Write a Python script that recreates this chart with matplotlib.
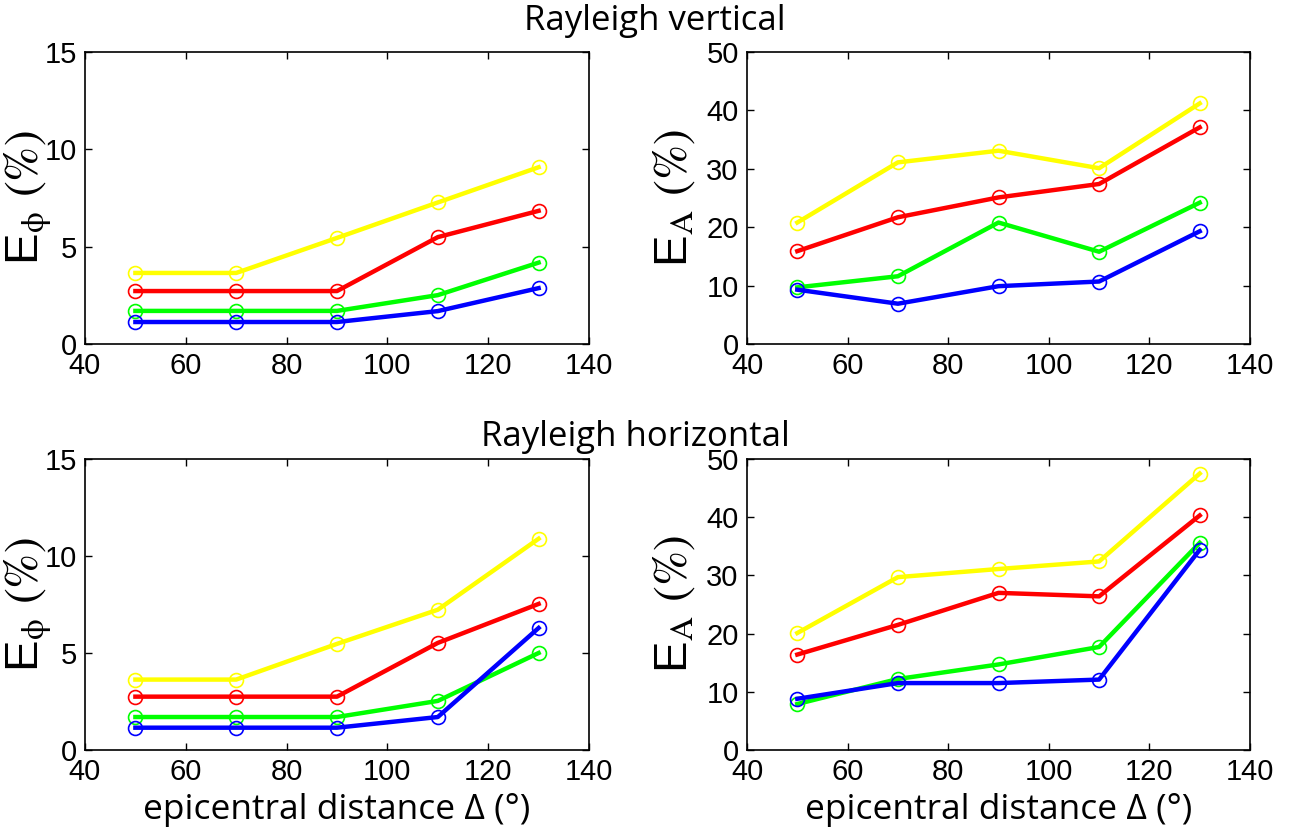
import matplotlib
matplotlib.use('Agg')
import matplotlib.pyplot as plt

# ---------------- data ----------------
distance = [50, 70, 90, 110, 130]
series_colors = ['#ffff00', '#ff0000', '#00ff00', '#0000ff']

# Rayleigh vertical - phase error (%)
rv_phase_yellow = [3.65, 3.65, 5.45, 7.27, 9.08]
rv_phase_red = [2.72, 2.72, 2.72, 5.49, 6.84]
rv_phase_green = [1.70, 1.70, 1.70, 2.51, 4.18]
rv_phase_blue = [1.13, 1.13, 1.13, 1.69, 2.87]

# Rayleigh vertical - amplitude error (%)
rv_amp_yellow = [20.8, 31.1, 33.1, 30.1, 41.2]
rv_amp_red = [15.9, 21.7, 25.1, 27.4, 37.1]
rv_amp_green = [9.7, 11.6, 20.8, 15.8, 24.2]
rv_amp_blue = [9.3, 6.9, 9.9, 10.7, 19.3]

# Rayleigh horizontal - phase error (%)
rh_phase_yellow = [3.63, 3.63, 5.47, 7.23, 10.89]
rh_phase_red = [2.75, 2.75, 2.75, 5.52, 7.53]
rh_phase_green = [1.70, 1.70, 1.70, 2.53, 5.00]
rh_phase_blue = [1.15, 1.15, 1.15, 1.70, 6.29]

# Rayleigh horizontal - amplitude error (%)
rh_amp_yellow = [20.1, 29.7, 31.1, 32.4, 47.5]
rh_amp_red = [16.4, 21.5, 27.0, 26.4, 40.3]
rh_amp_green = [7.9, 12.2, 14.7, 17.7, 35.6]
rh_amp_blue = [8.8, 11.5, 11.5, 12.1, 34.4]

x_ticks = [40, 60, 80, 100, 120, 140]
phase_ticks = [0, 5, 10, 15]
amp_ticks = [0, 10, 20, 30, 40, 50]

# ---------------- style ----------------
plt.rcParams['mathtext.fontset'] = 'stix'
tick_font = 'Liberation Sans'
text_font = 'Open Sans'

W, H = 1295, 838
fig = plt.figure(figsize=(W / 100, H / 100), dpi=100)


def px_axes(x0, y0, x1, y1):
    return fig.add_axes([x0 / W, 1 - y1 / H, (x1 - x0) / W, (y1 - y0) / H])


axes_specs = [
    (px_axes(85, 52, 589, 344), [rv_phase_yellow, rv_phase_red, rv_phase_green, rv_phase_blue], 15, phase_ticks, 'phi', False),
    (px_axes(747, 52, 1250, 344), [rv_amp_yellow, rv_amp_red, rv_amp_green, rv_amp_blue], 50, amp_ticks, 'A', False),
    (px_axes(85, 459, 589, 750), [rh_phase_yellow, rh_phase_red, rh_phase_green, rh_phase_blue], 15, phase_ticks, 'phi', True),
    (px_axes(747, 459, 1250, 750), [rh_amp_yellow, rh_amp_red, rh_amp_green, rh_amp_blue], 50, amp_ticks, 'A', True),
]

for ax, data, ymax, yticks, kind, bottom in axes_specs:
    for vals, c in zip(data, series_colors):
        ax.plot(distance, vals, color=c, lw=3.2, marker='o', markersize=10,
                markerfacecolor='none', markeredgecolor=c, markeredgewidth=1.2)
    ax.set_xlim(40, 140)
    ax.set_ylim(0, ymax)
    ax.set_xticks(x_ticks)
    ax.set_yticks(yticks)
    ax.tick_params(direction='in', top=True, right=True, length=5, width=1,
                   labelsize=21, pad=6)
    for lab in ax.get_xticklabels() + ax.get_yticklabels():
        lab.set_fontfamily(tick_font)
    for sp in ax.spines.values():
        sp.set_linewidth(1.2)
    if kind == 'phi':
        ax.set_ylabel(r'E$_{\mathrm{\phi}}$ $(\mathit{\%})$', fontsize=34, fontfamily=tick_font)
        ax.yaxis.set_label_coords(-0.062, 0.5)
    else:
        ax.set_ylabel(r'E$_{\mathrm{A}}$ $(\mathit{\%})$', fontsize=34, fontfamily=tick_font)
        ax.yaxis.set_label_coords(-0.100, 0.5)
    if bottom:
        ax.set_xlabel('epicentral distance Δ (°)', fontsize=25.5, fontfamily=text_font, labelpad=5)

fig.text(655 / W, 1 - 21 / H, 'Rayleigh vertical', ha='center', va='center',
         fontsize=25, fontfamily=text_font)
fig.text(635 / W, 1 - 437 / H, 'Rayleigh horizontal', ha='center', va='center',
         fontsize=25, fontfamily=text_font)

fig.savefig('out.png', dpi=100)
